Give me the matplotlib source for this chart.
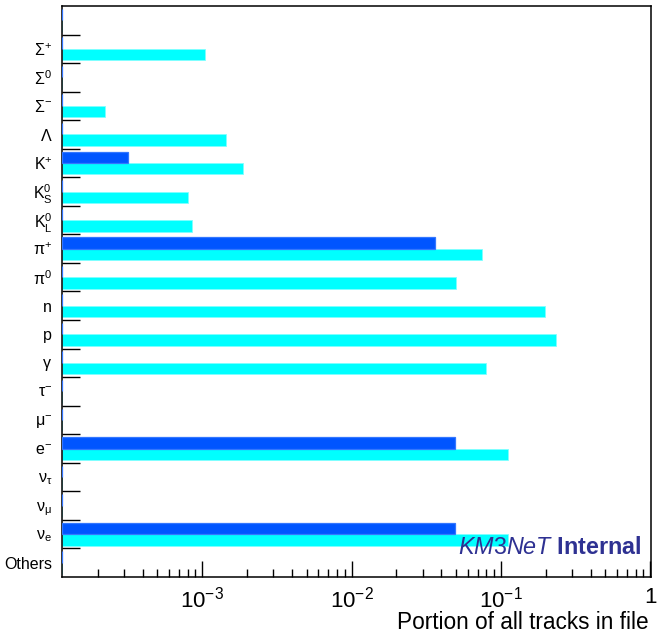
#! /usr/bin/env python3

import numpy as np
import matplotlib
matplotlib.use("Agg")
import matplotlib.pyplot as plt
from matplotlib.ticker import FuncFormatter, LogLocator


# Particle types, from the bottom of the plot to the top (top bin is empty).
particles = [r"Others", r"$\mathrm{ν}_{\mathrm{e}}$", r"$\mathrm{ν}_{\mathrm{μ}}$",
             r"$\mathrm{ν}_{\mathrm{τ}}$", r"$\mathrm{e}^{-}$", r"$\mathrm{μ}^{-}$",
             r"$\mathrm{τ}^{-}$", r"$\mathrm{γ}$", r"$\mathrm{p}$", r"$\mathrm{n}$",
             r"$\mathrm{π}^{0}$", r"$\mathrm{π}^{+}$", r"$\mathrm{K}^{0}_{\mathrm{L}}$",
             r"$\mathrm{K}^{0}_{\mathrm{S}}$", r"$\mathrm{K}^{+}$", r"$\mathrm{Λ}$",
             r"$\mathrm{Σ}^{-}$", r"$\mathrm{Σ}^{0}$", r"$\mathrm{Σ}^{+}$", ""]

# Portion of all tracks (light bars) and of the primary tracks (dark bars).
portion_all = [0, 0.111, 0, 0, 0.112, 0, 0, 0.0798, 0.235, 0.198,
               0.050, 0.0753, 8.57e-4, 8.06e-4, 1.87e-3, 1.45e-3,
               2.24e-4, 0, 1.05e-3, 0]
portion_primary = [0, 0.0497, 0, 0, 0.0497, 0, 0, 0, 0, 0,
                   0, 0.0365, 0, 0, 3.16e-4, 0,
                   0, 0, 0, 0]

xmin, xmax = 1.15e-4, 1.02

plt.rcParams['font.family'] = ['Liberation Sans', 'DejaVu Sans']
plt.rcParams['mathtext.fontset'] = 'custom'
plt.rcParams['mathtext.rm'] = 'Liberation Sans'
plt.rcParams['mathtext.it'] = 'Liberation Sans:italic'
plt.rcParams['mathtext.bf'] = 'Liberation Sans:bold'

fig = plt.figure(figsize=(6.58, 6.35), dpi=100)
ax = fig.add_axes([0.0942, 0.0913, 0.8958, 0.8993])

y = np.arange(len(particles))
a = np.array(portion_all, dtype=float)
b = np.array(portion_primary, dtype=float)
a_end = np.where(a > 0, a, xmin)
b_end = np.where(b > 0, b, xmin)

ax.barh(y - 0.2, a_end - xmin, left=xmin, height=0.4, color='#00FFFF',
        edgecolor='#80FFFF', linewidth=0.6, zorder=1)
ax.barh(y + 0.2, b_end - xmin, left=xmin, height=0.4, color='#0055FF',
        edgecolor='#3377FF', linewidth=0.9, zorder=3)

ax.set_xscale('log')
ax.set_xlim(xmin, xmax)
ax.set_ylim(-0.5, len(particles) - 0.5)

ax.xaxis.set_major_locator(LogLocator(base=10, numticks=10))
ax.xaxis.set_minor_locator(LogLocator(base=10, subs=np.arange(2, 10), numticks=20))
ax.xaxis.set_major_formatter(FuncFormatter(
    lambda v, p: "1" if abs(v - 1) < 1e-9 else r"$10^{%d}$" % round(np.log10(v))))
ax.tick_params(axis='x', which='major', direction='in', length=11.5, width=1,
               labelsize=16, pad=7)
ax.tick_params(axis='x', which='minor', direction='in', length=5.8, width=1)

ax.set_yticks(y)
ax.set_yticklabels(particles)
ax.set_yticks(y[:-1] + 0.5, minor=True)
ax.tick_params(axis='y', which='major', length=0, labelsize=11.5, pad=7)
ax.tick_params(axis='y', which='minor', direction='in', length=13, width=1)

for s in ax.spines.values():
    s.set_linewidth(1.1)

ax.set_xlabel("Portion of all tracks in file", fontsize=16.3, ha='right')
ax.xaxis.set_label_coords(0.9945, -0.060)

ax.text(0.984, 0.051, r"$\mathit{KM3NeT}\ \mathbf{Internal}$", transform=ax.transAxes,
        fontsize=16.8, color='#2E3192', ha='right', va='center')

fig.savefig("out.png", dpi=100)
